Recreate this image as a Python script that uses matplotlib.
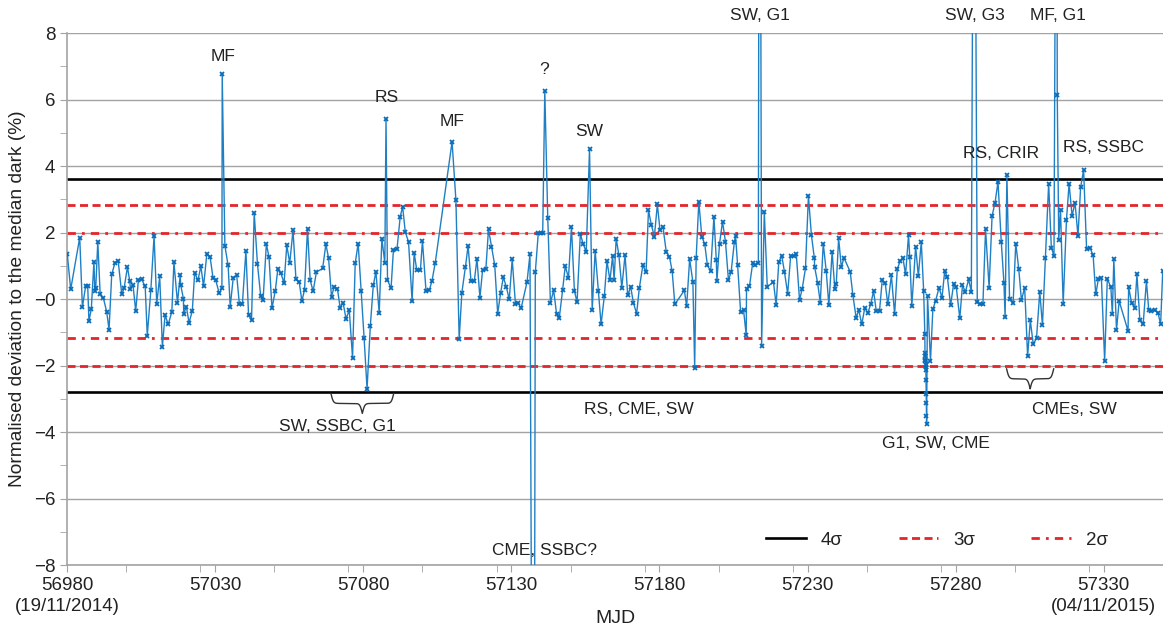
import numpy as np
import matplotlib
matplotlib.use("Agg")
import matplotlib.pyplot as plt
from matplotlib.ticker import MultipleLocator

plt.rcParams['font.family'] = ['Liberation Sans', 'DejaVu Sans']

# days after MJD 56980 and normalised deviation (%)
MJD0 = 56980
day = [0.1, 1.25, 4.3, 5.2, 6.3, 7.0, 7.4, 8.2, 9.1, 9.4, 9.7, 10.4, 11.2, 12.3, 13.4, 14.2,
       15.1, 16.2, 17.3, 18.5, 19.3, 20.4, 21.2, 21.4, 22.3, 23.2, 24.1, 25.2, 26.4, 27.1,
       28.3, 29.4, 30.3, 31.3, 32.2, 33.1, 34.2, 35.4, 36.1, 37.3, 38.2, 38.4, 39.3, 39.4,
       40.3, 41.2, 42.3, 43.1, 44.2, 45.2, 46.1, 47.2, 48.3, 49.3, 50.2, 51.4, 52.3, 52.4,
       53.3, 54.4, 55.1, 56.1, 57.3, 58.2, 59.2, 60.4, 61.3, 62.3, 63.2, 64.3, 65.4, 66.2,
       67.3, 68.2, 69.2, 70.3, 71.2, 72.2, 73.3, 74.2, 75.2, 76.3, 77.3, 78.4, 79.3, 80.2,
       81.2, 82.1, 83.1, 84.2, 86.3, 87.4, 88.3, 89.3, 90.2, 91.3, 92.2, 93.2, 94.2, 95.3,
       96.4, 97.3, 98.3, 99.3, 100.3, 101.3, 102.4, 103.4, 104.3, 105.4, 106.3, 107.3, 107.7,
       108.2, 109.4, 110.2, 111.4, 112.5, 113.3, 114.2, 115.3, 116.5, 117.2, 118.1, 119.3,
       120.0, 121.2, 122.3, 123.2, 124.3, 130.0, 131.3, 132.4, 133.3, 134.5, 135.4, 136.4,
       137.5, 138.4, 139.4, 140.3, 141.4, 142.3, 143.3, 144.4, 145.4, 146.4, 147.3, 148.3,
       149.3, 150.3, 151.4, 152.4, 153.3, 155.3, 156.3, 157.5, 158.1, 159.1, 160.0, 160.6,
       161.3, 162.3, 163.2, 164.3, 165.3, 166.2, 167.3, 168.2, 169.3, 170.3, 171.3, 172.2,
       173.3, 174.3, 175.3, 176.4, 177.3, 178.3, 179.4, 180.3, 181.4, 182.3, 183.3, 184.2,
       184.7, 185.4, 186.3, 187.3, 188.4, 189.3, 190.3, 191.2, 192.3, 193.2, 194.4, 195.5,
       196.3, 197.3, 198.3, 199.3, 200.2, 201.2, 202.3, 203.4, 204.3, 205.2, 208.4, 209.2,
       210.2, 211.3, 211.9, 212.4, 213.3, 214.3, 215.3, 216.2, 217.3, 218.4, 219.2, 219.4,
       220.3, 221.3, 222.3, 223.3, 224.2, 225.3, 225.7, 226.4, 227.4, 228.4, 229.3, 229.4,
       230.4, 231.5, 232.4, 233.4, 233.8, 234.5, 235.4, 236.4, 238.5, 239.4, 240.3, 241.3,
       242.2, 243.3, 244.3, 245.3, 246.2, 247.3, 248.2, 249.3, 250.3, 251.3, 252.3, 252.4,
       253.4, 254.3, 255.3, 256.3, 257.2, 258.3, 259.2, 259.7, 260.5, 261.4, 262.3, 264.4,
       265.3, 266.4, 267.3, 268.3, 269.3, 270.4, 271.3, 272.3, 273.2, 274.3, 275.2, 276.2,
       277.1, 278.3, 279.4, 280.3, 281.3, 282.2, 283.1, 284.1, 284.5, 285.2, 286.5, 287.4,
       288.4, 289.2, 289.6, 289.65, 289.7, 289.75, 289.8, 289.85, 289.9, 289.95, 290.0,
       290.05, 290.1, 290.15, 290.2, 290.5, 291.5, 292.3, 293.2, 294.4, 295.4, 296.3, 297.2,
       298.3, 299.3, 300.2, 301.4, 302.3, 303.3, 304.4, 305.3, 306.2, 307.3, 308.2, 309.2,
       310.1, 311.3, 312.3, 313.3, 314.3, 315.4, 316.3, 316.7, 317.3, 318.2, 319.4, 320.3,
       321.3, 322.2, 323.3, 324.3, 325.2, 326.2, 327.3, 328.4, 329.3, 330.3, 331.4, 332.3,
       333.2, 334.1, 334.3, 334.8, 335.4, 336.3, 337.4, 338.3, 339.3, 340.3, 341.3, 342.2,
       343.2, 344.2, 345.3, 346.4, 347.3, 348.2, 349.2, 350.3, 351.2, 352.4, 352.9, 353.4,
       354.3, 355.2, 358.2, 358.4, 359.4, 360.5, 361.2, 362.2, 363.3, 364.4, 365.2, 366.1,
       367.2, 368.3, 369.2, 369.9]
dev = [1.35, 0.29, 1.85, -0.24, 0.39, 0.39, -0.66, -0.31, 1.12, 0.24, 0.32, 1.73, 0.14, 0.02,
       -0.38, -0.92, 0.74, 1.09, 1.13, 0.14, 0.34, 0.96, 0.54, 0.31, 0.41, -0.36, 0.57, 0.59,
       0.38, -1.10, 0.26, 1.90, -0.14, 0.68, -1.43, -0.49, -0.76, -0.38, 1.11, -0.11, 0.71,
       0.42, 0.01, -0.44, -0.23, -0.71, -0.36, 0.79, 0.56, 0.99, 0.38, 1.35, 1.27, 0.64, 0.57,
       0.17, 0.32, 6.78, 1.60, 1.01, -0.23, 0.62, 0.71, -0.16, -0.16, 1.45, -0.49, -0.64, 2.60,
       1.05, 0.09, -0.03, 1.65, 1.27, -0.28, 0.24, 0.91, 0.77, 0.49, 1.62, 1.08, 2.07, 0.59,
       0.51, -0.06, 0.28, 2.12, 0.56, 0.24, 0.81, 0.92, 1.65, 1.24, 0.07, 0.37, 0.31, -0.26,
       -0.11, -0.59, -0.34, -1.77, 1.08, 1.67, 0.24, -1.17, -2.70, -0.81, 0.41, 0.82, -0.43,
       1.82, 1.08, 5.43, 0.57, 0.32, 1.48, 1.50, 2.48, 2.78, 2.02, 1.72, -0.06, 1.39, 0.86,
       0.86, 1.75, 0.24, 0.26, 0.54, 1.08, 4.73, 2.97, -1.21, 0.19, 0.96, 1.60, 0.54, 0.54,
       1.21, 0.04, 0.87, 0.89, 2.10, 1.58, 1.02, -0.44, 0.19, 0.66, 0.37, -0.01, 1.20, -0.16,
       -0.13, -0.28, 0.51, 1.35, -25.0, 0.81, 1.98, 1.98, 1.98, 6.27, 2.45, -0.11, 0.26,
       -0.46, -0.56, 0.26, 0.99, 0.64, 2.17, 0.24, -0.09, 1.95, 1.65, 1.42, 4.51, -0.34, 1.45,
       0.24, -0.76, 0.09, 1.14, 0.56, 1.30, 0.57, 1.82, 1.33, 0.34, 1.33, 0.11, 0.37, -0.11,
       -0.44, 0.32, 1.01, 0.81, 2.67, 2.22, 1.88, 2.85, 2.07, 2.17, 1.42, 1.27, 0.84, -0.16,
       0.26, -0.21, 1.20, 0.51, -2.07, 1.23, 2.93, 1.88, 1.65, 1.01, 0.84, 2.48, 1.17, 0.54,
       1.67, 2.33, 1.72, 0.57, 0.81, 1.72, 1.90, 1.02, -0.38, -0.33, -1.09, 0.29, 0.39, 1.09,
       1.02, 1.09, 25.0, -1.42, 2.63, 0.37, 0.51, -0.18, 1.12, 1.30, 0.82, 0.16, 1.30, 1.30,
       1.35, -0.03, 0.31, 0.92, 3.10, 1.93, 1.23, 0.96, 0.49, -0.11, 1.67, 0.85, -0.19, 1.42,
       0.31, 0.46, 1.83, 0.96, 1.24, 0.82, 0.12, -0.56, -0.33, -0.76, -0.28, -0.41, -0.16,
       0.24, -0.36, -0.36, 0.56, 0.49, -0.16, 0.71, -0.46, 0.91, 1.14, 1.23, 0.74, 1.93, 1.27,
       -0.21, 1.58, 0.69, 1.72, 0.24, -1.06, -1.62, -1.72, -1.82, -1.87, -1.97, -2.05, -2.12,
       -2.42, -2.87, -3.12, -3.52, -3.77, 0.10, -1.87, -0.31, -0.06, 0.34, 0.04, 0.84, 0.67,
       -0.19, 0.44, 0.37, -0.58, 0.41, 0.22, 0.59, 0.21, 20.0, -0.09, -0.16, -0.16, 2.10,
       0.34, 2.50, 2.90, 3.52, 1.72, 0.49, -0.55, 3.72, -0.01, -0.12, 1.67, 0.91, -0.03, 0.34,
       -1.72, -0.64, -1.36, -1.18, 0.22, -0.79, 1.24, 3.47, 1.55, 1.30, 20.0, 6.14, 1.78,
       2.68, -0.16, 2.37, 3.47, 2.50, 2.90, 1.90, 3.37, 3.88, 1.52, 1.55, 1.32, 0.14, 0.61,
       0.64, -1.87, 0.61, 0.36, -0.46, 1.20, -0.93, -0.06, -0.96, 0.37, -0.13, -0.26, 0.74,
       -0.64, -0.76, 0.54, -0.34, -0.36, -0.33, -0.41, -0.76, 0.84]
mjd = MJD0 + np.array(day)

# threshold levels (upper, lower)
lvl_4s = [3.60, -2.80]
lvl_3s = [2.83, -2.02]
lvl_2s = [1.98, -1.17]

# event labels: text, mjd, value
events = [("MF", 57032.7, 7.3), ("RS", 57087.8, 6.05), ("MF", 57110.0, 5.35),
          ("?", 57141.2, 6.9), ("SW", 57156.4, 5.05), ("SW, G1", 57213.8, 8.52),
          ("SW, G3", 57286.4, 8.52), ("MF, G1", 57314.6, 8.52),
          ("RS, CRIR", 57295.5, 4.37), ("RS, SSBC", 57330.0, 4.55),
          ("SW, SSBC, G1", 57071.2, -3.83), ("RS, CME, SW", 57173.2, -3.32),
          ("G1, SW, CME", 57273.2, -4.35), ("CMEs, SW", 57320.2, -3.32),
          ("CME, SSBC?", 57141.2, -7.55)]
# braces: start mjd, end mjd, top value
braces = [(57069.1, 57090.3, -2.84), (57297.2, 57313.1, -2.1)]

xticks = [56980, 57030, 57080, 57130, 57180, 57230, 57280, 57330]
xticklabels = ["56980\n(19/11/2014)", "57030", "57080", "57130", "57180", "57230",
               "57280", "57330\n(04/11/2015)"]
yticks = [-8, -6, -4, -2, 0, 2, 4, 6, 8]
yticklabels = ["\u22128", "\u22126", "\u22124", "\u22122", "\u22120", "2", "4", "6", "8"]

txt = '#222222'
grey = '#a3a3a3'
red = '#e3262b'

fig = plt.figure(figsize=(11.63, 6.26), dpi=100)
ax = fig.add_axes([0.0576, 0.0974, 0.9424, 0.8498])

ax.set_xlim(56980, 57350)
ax.set_ylim(-8, 8)

l4 = l3 = l2 = None
for y in lvl_4s:
    l4 = ax.axhline(y, color='black', lw=1.9, zorder=2)
for y in lvl_3s:
    l3 = ax.axhline(y, color=red, lw=2, dashes=(2.9, 1.6), zorder=2)
for y in lvl_2s:
    l2 = ax.axhline(y, color=red, lw=2, dashes=(3.0, 2.2, 1.0, 2.2), zorder=2)

ax.plot(mjd, dev, color='#1f7fc4', lw=1.0, marker='x', ms=3.5, mew=1.3,
        mec='#0b6db8', zorder=3)

for s, x, y in events:
    ax.text(x, y, s, ha='center', va='center', fontsize=12.5, color=txt, clip_on=False)


def brace(x0, x1, ytop, h=0.6, beta=2.5):
    xs = np.linspace(x0, x1, 401)
    half = xs[:201]
    yh = 1 / (1 + np.exp(-beta * (half - half[0]))) + 1 / (1 + np.exp(-beta * (half - half[-1])))
    yy = np.concatenate([yh, yh[-2::-1]])
    yy = ytop - (yy - yy.min()) / (yy.max() - yy.min()) * h
    ax.plot(xs, yy, color='#333333', lw=1.0, zorder=4)


for b in braces:
    brace(*b)

ax.set_xticks(xticks)
ax.set_xticklabels(xticklabels, linespacing=1.35)
ax.set_yticks(yticks)
ax.set_yticklabels(yticklabels)
ax.xaxis.set_minor_locator(MultipleLocator(25))
ax.yaxis.set_minor_locator(MultipleLocator(1))
ax.tick_params(which='both', direction='out', length=5, color=grey, labelsize=13.5,
               labelcolor=txt)
ax.yaxis.grid(True, color=grey, lw=1)
ax.set_axisbelow(True)
for sp in ['top', 'right']:
    ax.spines[sp].set_visible(False)
for sp in ['left', 'bottom']:
    ax.spines[sp].set_color(grey)
    ax.spines[sp].set_linewidth(1.2)

ax.set_ylabel("Normalised deviation to the median dark (%)", fontsize=13.8, color=txt)
ax.yaxis.set_label_coords(-0.037, 0.5)
ax.set_xlabel("MJD", fontsize=14, color=txt)
ax.xaxis.set_label_coords(0.5, -0.085)

ax.legend([l4, l3, l2], ["4\u03c3", "3\u03c3", "2\u03c3"], loc='center right',
          bbox_to_anchor=(0.965, 0.047), ncol=3, frameon=False, fontsize=13.5,
          handlelength=2.1, handletextpad=0.8, columnspacing=3.0, labelcolor=txt)

fig.savefig("out.png", dpi=100)
